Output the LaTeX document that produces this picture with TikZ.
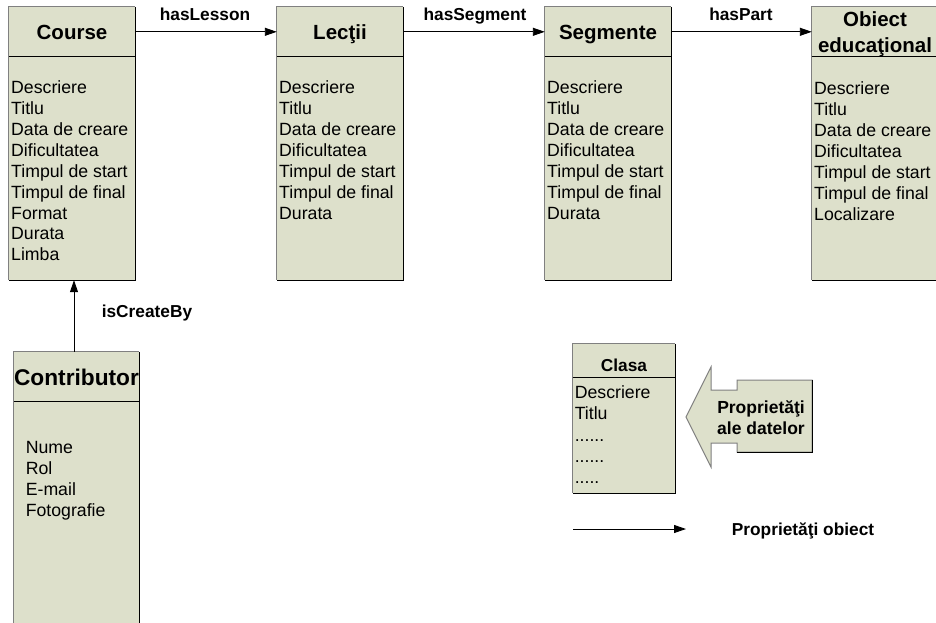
\documentclass[tikz,border=0pt]{standalone}
\usepackage{fontspec}
\setmainfont{Liberation Sans}
\usetikzlibrary{arrows.meta}
\definecolor{boxfill}{HTML}{DDE0CB}
\definecolor{edgegrey}{HTML}{808080}
\newcommand\bevelbox[1]{%
  \draw[edgegrey,line width=1pt] (#1.south west) -- (#1.north west) -- (#1.north east);
  \draw[black,line width=1pt] (#1.north east) -- (#1.south east) -- (#1.south west);}
\begin{document}
\begin{tikzpicture}[x=1pt,y=-1pt,
  ubox/.style={fill=boxfill, draw=none, inner sep=0pt, minimum width=126pt, minimum height=273pt},
  ttl/.style={anchor=base, inner sep=0pt, font=\fontsize{20.5}{25}\selectfont\bfseries},
  lbl/.style={anchor=base, inner sep=0pt, font=\fontsize{17.3}{21}\selectfont\bfseries},
  attrs/.style={anchor=north west, inner sep=0pt, align=left, font=\fontsize{17.7}{20.9}\selectfont},
  arr/.style={-{Triangle[length=12pt,width=8pt]}, line width=0.9pt, black},
  dividerln/.style={black, line width=1pt},
]
\useasboundingbox (0,0) rectangle (936,623);

% main boxes
\node[ubox] (course) at (72,143.5) {};
\node[ubox] (lectii) at (340,143.5) {};
\node[ubox] (segm) at (608,143.5) {};
\node[ubox] (obiect) at (875,143.5) {};
\node[ubox, minimum width=125pt] (contrib) at (76.5,488.5) {};
\node[ubox, minimum width=102pt, minimum height=149pt] (clasa) at (624,418.5) {};

\foreach \b in {course,lectii,segm,obiect,contrib,clasa}{\bevelbox{\b}}
\foreach \b in {course,lectii,segm,obiect,contrib}{
  \draw[dividerln] ([yshift=-50pt]\b.north west) -- ([yshift=-50pt]\b.north east);}
\draw[dividerln] ([yshift=-34pt]clasa.north west) -- ([yshift=-34pt]clasa.north east);

% titles
\node[ttl] (courseT) at (72,39.3) {Course};
\node[ttl] (lectiiT) at (340,39.3) {Lecţii};
\node[ttl] (segmT) at (608,39.3) {Segmente};
\node[ttl, anchor=north, align=center, font=\fontsize{20.5}{26}\selectfont\bfseries] (obiectT) at (875,11.7) {Obiect\\educaţional};
\node[ttl, font=\fontsize{22.7}{27}\selectfont\bfseries] (contribT) at (76.5,385.1) {Contributor};
\node[lbl] (clasaT) at (624,371.2) {Clasa};

% attributes
\node[attrs] (courseA) at (11,80.6) {Descriere\\Titlu\\Data de creare\\Dificultatea\\Timpul de start\\Timpul de final\\Format\\Durata\\Limba};
\node[attrs] (lectiiA) at (279,80.6) {Descriere\\Titlu\\Data de creare\\Dificultatea\\Timpul de start\\Timpul de final\\Durata};
\node[attrs] (segmA) at (547,80.6) {Descriere\\Titlu\\Data de creare\\Dificultatea\\Timpul de start\\Timpul de final\\Durata};
\node[attrs] (obiectA) at (814,81.6) {Descriere\\Titlu\\Data de creare\\Dificultatea\\Timpul de start\\Timpul de final\\Localizare};
\node[attrs] (contribA) at (25.6,441.6) {Nume\\Rol\\E-mail\\Fotografie};
\node[attrs, font=\fontsize{17.7}{21.3}\selectfont] (clasaA) at (574.6,385.6) {Descriere\\Titlu\\......\\......\\.....};

% object property arrows
\draw[arr] ([yshift=-25pt]course.north east) -- ([yshift=-25pt]lectii.north west);
\draw[arr] ([yshift=-25pt]lectii.north east) -- ([yshift=-25pt]segm.north west);
\draw[arr] ([yshift=-25pt]segm.north east) -- ([yshift=-25pt]obiect.north west);
\draw[arr] ([xshift=-2.5pt]contrib.north) -- ([xshift=2pt]course.south);

\node[lbl] (l1) at (205,21) {hasLesson};
\node[lbl] (l2) at (475,21) {hasSegment};
\node[lbl] (l3) at (741,21) {hasPart};
\node[lbl] (l4) at (147,317.5) {isCreateBy};

% data properties callout
\filldraw[fill=boxfill, draw=edgegrey, line width=1pt]
  (686,417) -- (711,367) -- (711,390) -- (737,390) -- (737,380) -- (812,380)
  -- (812,452) -- (737,452) -- (737,443) -- (711,443) -- (711,467) -- cycle;
\draw[black, line width=1pt] (812,380) -- (812,452) -- (737,452);
\node[lbl, anchor=north, align=center, font=\fontsize{17.5}{21}\selectfont\bfseries] (dataT) at (761,400.5) {Proprietăţi\\ale datelor};

% legend arrow
\coordinate (la1) at (573,529);
\coordinate (la2) at (686,529);
\draw[arr] (la1) -- (la2);
\node[lbl] (objT) at (803,535) {Proprietăţi obiect};
\end{tikzpicture}
\end{document}
